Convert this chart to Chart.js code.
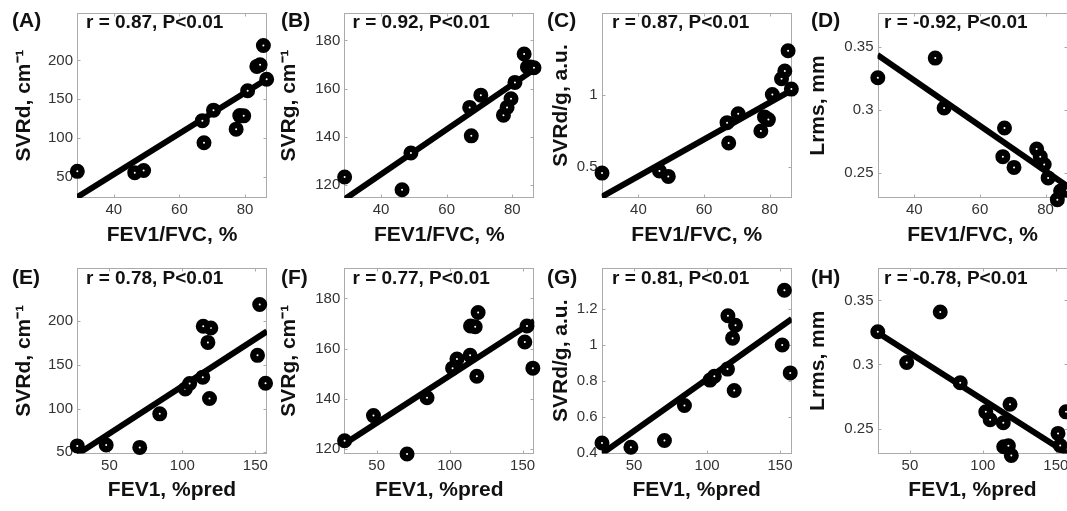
<!DOCTYPE html>
<html><head><meta charset="utf-8">
<script src="https://cdn.jsdelivr.net/npm/chart.js@4.4.1/dist/chart.umd.min.js"></script>
<style>
html,body{margin:0;padding:0;background:#fff;overflow:hidden;width:1067px;height:511px;}
#wrap{position:relative;width:1067px;height:511px;overflow:hidden;}
canvas{position:absolute;}
.lbl{position:absolute;font-family:"Liberation Sans",Arial,sans-serif;font-weight:bold;color:#111;white-space:nowrap;line-height:1;}
</style></head><body><div id="wrap"></div>
<script>
// ---- data (one entry per subject) ----
const fev1fvc  = [28.9, 46.4, 49.1, 67.0, 67.5, 70.4, 77.3, 78.4, 79.6, 80.8, 83.6, 84.6, 85.6, 86.6];
const fev1pred = [28.0, 70.8, 47.8, 102.0, 84.5, 114.0, 118.6, 157.0, 105.0, 151.5, 119.5, 114.3, 153.0, 117.5];
const svrd     = [57.3, 55.6, 58.4, 122.5, 94.0, 136.0, 111.6, 129.0, 128.7, 161.0, 192.3, 194.3, 219.2, 175.8];
const svrg     = [123.3, 118.0, 133.3, 152.2, 140.4, 157.3, 149.0, 152.2, 155.8, 162.6, 174.4, 169.0, 169.0, 168.7];
const svrdg    = [0.455, 0.469, 0.432, 0.805, 0.664, 0.866, 0.747, 0.845, 0.826, 1.0, 1.11, 1.163, 1.304, 1.038];
const lrms     = [0.3255, 0.341, 0.3015, 0.263, 0.2857, 0.2545, 0.269, 0.263, 0.2568, 0.2462, 0.229, 0.2358, 0.2368, 0.2365];

// regression line end points
const fitXTop    = [28.8, 86.7];
const fitXBottom = [27.8, 158];
const fitA = [24, 176];
const fitB = [114, 168];
const fitC = [0.29, 1.03];
const fitD = [0.3435, 0.2395];
const fitE = [47.5, 188.5];
const fitF = [122, 171];
const fitG = [0.395, 1.145];
const fitH = [0.325, 0.2305];

// axis ranges and ticks
const xRangeTop = [28.8, 86.7];
const xRangeBottom = [27.8, 158];
const yRangeA = [23, 261],   yRangeB = [114.6, 191.4], yRangeC = [0.282, 1.566], yRangeD = [0.2303, 0.3767];
const yRangeE = [48.6, 261], yRangeF = [118.2, 192.1], yRangeG = [0.397, 1.428], yRangeH = [0.2305, 0.3753];
const xTicksTop = [40, 60, 80];
const xTicksBottom = [50, 100, 150];
const yTicksA = [50, 100, 150, 200], yTicksB = [120, 140, 160, 180], yTicksC = [0.5, 1], yTicksD = [0.25, 0.3, 0.35];
const yTicksE = [50, 100, 150, 200], yTicksF = [120, 140, 160, 180], yTicksG = [0.4, 0.6, 0.8, 1, 1.2], yTicksH = [0.25, 0.3, 0.35];

const panelLabels = ['(A)','(B)','(C)','(D)','(E)','(F)','(G)','(H)'];
const rTexts = ['r = 0.87, P<0.01','r = 0.92, P<0.01','r = 0.87, P<0.01','r = -0.92, P<0.01',
                'r = 0.78, P<0.01','r = 0.77, P<0.01','r = 0.81, P<0.01','r = -0.78, P<0.01'];
const xTitles = ['FEV1/FVC, %','FEV1, %pred'];
const yTitles = ['SVRd, cm\u207B\u00B9','SVRg, cm\u207B\u00B9','SVRd/g, a.u.','Lrms, mm'];

// ---- layout ----
const FONT = '"Liberation Sans", Arial, sans-serif';
Chart.defaults.font.family = FONT;
const rows = [
  {rowTop:0,   plotTop:10,    plotBottom:198,   xTitleY:235.4, labTop:9},
  {rowTop:255, plotTop:266.7, plotBottom:453.5, xTitleY:490.5, labTop:266}
];
const cols = [
  {left:77,    titleX:25,    labX:12,  rX:86},
  {left:344.3, titleX:290,   labX:281, rX:352.5},
  {left:601.7, titleX:561.7, labX:547, rX:612},
  {left:877.5, titleX:818.3, labX:811, rX:884}
];
const PW = 190;

const panels = [
  {xs:fev1fvc, ys:svrd,  xr:xRangeTop, yr:yRangeA, xt:xTicksTop, yt:yTicksA, fx:fitXTop, fy:fitA},
  {xs:fev1fvc, ys:svrg,  xr:xRangeTop, yr:yRangeB, xt:xTicksTop, yt:yTicksB, fx:fitXTop, fy:fitB},
  {xs:fev1fvc, ys:svrdg, xr:xRangeTop, yr:yRangeC, xt:xTicksTop, yt:yTicksC, fx:fitXTop, fy:fitC},
  {xs:fev1fvc, ys:lrms,  xr:xRangeTop, yr:yRangeD, xt:xTicksTop, yt:yTicksD, fx:fitXTop, fy:fitD},
  {xs:fev1pred, ys:svrd,  xr:xRangeBottom, yr:yRangeE, xt:xTicksBottom, yt:yTicksE, fx:fitXBottom, fy:fitE},
  {xs:fev1pred, ys:svrg,  xr:xRangeBottom, yr:yRangeF, xt:xTicksBottom, yt:yTicksF, fx:fitXBottom, fy:fitF},
  {xs:fev1pred, ys:svrdg, xr:xRangeBottom, yr:yRangeG, xt:xTicksBottom, yt:yTicksG, fx:fitXBottom, fy:fitG},
  {xs:fev1pred, ys:lrms,  xr:xRangeBottom, yr:yRangeH, xt:xTicksBottom, yt:yTicksH, fx:fitXBottom, fy:fitH}
];

const boxPlugin = {
  id:'box',
  beforeDatasetsDraw(chart){
    const {ctx, chartArea:a, scales} = chart;
    ctx.save();
    ctx.strokeStyle = '#ababab';
    ctx.lineWidth = 1;
    const l = Math.round(a.left)+0.5, t = Math.round(a.top)+0.5, r = Math.round(a.right)-0.5, b = Math.round(a.bottom)-0.5;
    ctx.strokeRect(l, t, r-l, b-t);
    ctx.beginPath();
    scales.x.ticks.forEach(tk => {
      const px = Math.round(scales.x.getPixelForValue(tk.value))+0.5;
      ctx.moveTo(px, b); ctx.lineTo(px, b-3);
      ctx.moveTo(px, t); ctx.lineTo(px, t+3);
    });
    scales.y.ticks.forEach(tk => {
      const py = Math.round(scales.y.getPixelForValue(tk.value))+0.5;
      ctx.moveTo(l, py); ctx.lineTo(l+3, py);
      ctx.moveTo(r, py); ctx.lineTo(r-3, py);
    });
    ctx.stroke();
    ctx.restore();
  }
};

const wrap = document.getElementById('wrap');
const LH = 21*1.2;

panels.forEach((p, i) => {
  const row = rows[Math.floor(i/4)], col = cols[i%4];
  const cLeft = Math.round(col.titleX - LH/2);
  const cTop = row.rowTop;
  const cBottom = Math.round(row.xTitleY + LH/2);
  const cRight = Math.round(col.left + PW + 14);
  const W = cRight - cLeft, H = cBottom - cTop;
  const yAxisW = col.left - cLeft;
  const xAxisH = cBottom - row.plotBottom;
  const cv = document.createElement('canvas');
  cv.width = W; cv.height = H;
  cv.style.left = cLeft + 'px'; cv.style.top = cTop + 'px';
  cv.style.width = W + 'px'; cv.style.height = H + 'px';
  wrap.appendChild(cv);

  const pts = p.xs.map((x, k) => ({x:x, y:p.ys[k]}));
  const fit = p.fx.map((x, k) => ({x:x, y:p.fy[k]}));

  new Chart(cv, {
    type:'scatter',
    data:{datasets:[
      {data:pts, pointRadius:4.25, pointBorderWidth:6.5, pointBorderColor:'#000', pointBackgroundColor:'#fff',
       pointHoverRadius:4.25, showLine:false, clip:false, order:0},
      {data:fit, showLine:true, pointRadius:0, borderColor:'#000', borderWidth:6, borderCapStyle:'butt', clip:0, order:1}
    ]},
    options:{
      responsive:false, animation:false, devicePixelRatio:1,
      events:[],
      layout:{padding:{top: row.plotTop - cTop, right: cRight - (col.left + PW), bottom:0, left:0}},
      plugins:{legend:{display:false}, tooltip:{enabled:false}},
      scales:{
        x:{type:'linear', position:'bottom', min:p.xr[0], max:p.xr[1],
           grid:{display:false, drawTicks:false}, border:{display:false},
           ticks:{font:{size:15}, color:'#333', padding:3, maxRotation:0, autoSkip:false, callback:v => String(v)},
           afterBuildTicks: s => { s.ticks = p.xt.map(v => ({value:v})); },
           afterFit: s => { s.height = xAxisH; },
           title:{display:true, text:xTitles[Math.floor(i/4)], font:{size:21, weight:'bold'}, color:'#111', padding:0}},
        y:{type:'linear', position:'left', min:p.yr[0], max:p.yr[1],
           grid:{display:false, drawTicks:false}, border:{display:false},
           ticks:{font:{size:15}, color:'#333', padding:4, autoSkip:false, callback:v => String(v)},
           afterBuildTicks: s => { s.ticks = p.yt.map(v => ({value:v})); },
           afterFit: s => { s.width = yAxisW; },
           title:{display:true, text:yTitles[i%4], font:{size:21, weight:'bold'}, color:'#111', padding:0}}
      }
    },
    plugins:[boxPlugin]
  });

  const lab = document.createElement('div');
  lab.className = 'lbl';
  lab.style.fontSize = '21px';
  lab.style.left = col.labX + 'px';
  lab.style.top = row.labTop + 'px';
  lab.textContent = panelLabels[i];
  wrap.appendChild(lab);

  const rt = document.createElement('div');
  rt.className = 'lbl';
  rt.style.fontSize = '19px';
  rt.style.left = col.rX + 'px';
  rt.style.top = (row.plotTop + 1.5) + 'px';
  rt.textContent = rTexts[i];
  wrap.appendChild(rt);
});
</script>
</body></html>
